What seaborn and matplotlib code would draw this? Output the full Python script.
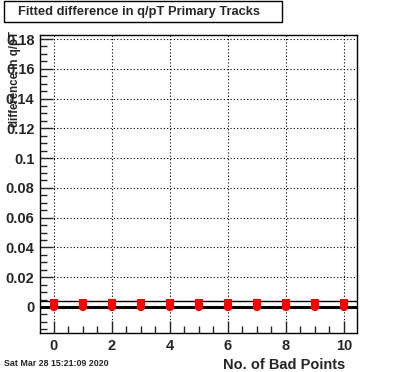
import numpy as np
import matplotlib
matplotlib.use("Agg")
import matplotlib.pyplot as plt
import seaborn as sns
from matplotlib.ticker import MultipleLocator
from matplotlib.patches import Rectangle

# data
bad_points = [0, 1, 2, 3, 4, 5, 6, 7, 8, 9, 10]
fit_mean = [0.0, 0.0, 0.0, 0.0, 0.0, 0.0, 0.0, 0.0, 0.0, 0.0, 0.0]
fit_upper = [0.003, 0.003, 0.003, 0.003, 0.003, 0.003, 0.003, 0.003, 0.003, 0.003, 0.003]
ref_lines = [0.0, 0.004]

sns.set_style("ticks")
plt.rcParams['font.family'] = ['Liberation Sans', 'DejaVu Sans']

fig = plt.figure(figsize=(3.96, 3.72), dpi=100)
ax = fig.add_axes([40 / 396, 1 - 333 / 372, 317 / 396, 298 / 372])

ax.axhline(ref_lines[0], color='black', lw=2.2, zorder=2)
ax.axhline(ref_lines[1], color='black', lw=1.0, zorder=2)

sns.scatterplot(x=bad_points, y=fit_upper, marker='s', s=28, color='red',
                edgecolor='none', ax=ax, zorder=3)
sns.scatterplot(x=bad_points, y=fit_mean, marker='o', s=36, color='red',
                edgecolor='none', ax=ax, zorder=3)
ax.vlines(bad_points, fit_mean, fit_upper, color='red', lw=4, zorder=3)

ax.set_xlim(-0.48, 10.45)
ax.set_ylim(-0.0175, 0.1827)
ax.xaxis.set_major_locator(MultipleLocator(2))
ax.xaxis.set_minor_locator(MultipleLocator(0.5))
ax.yaxis.set_major_locator(MultipleLocator(0.02))
ax.yaxis.set_minor_locator(MultipleLocator(0.005))
ax.set_yticks([0, 0.02, 0.04, 0.06, 0.08, 0.1, 0.12, 0.14, 0.16, 0.18])
ax.set_yticklabels(['0', '0.02', '0.04', '0.06', '0.08', '0.1', '0.12', '0.14', '0.16', '0.18'])
ax.tick_params(which='major', direction='in', length=9, width=1, labelsize=10.5, pad=4)
ax.tick_params(which='minor', direction='in', length=5, width=1)
for lab in ax.get_xticklabels() + ax.get_yticklabels():
    lab.set_fontweight('bold')
ax.grid(True, which='major', linestyle=(0, (1, 2)), color='black', lw=0.8)
for s in ax.spines.values():
    s.set_linewidth(1.0)
    s.set_color('black')

fig.text(345 / 396, 1 - 365 / 372, 'No. of Bad Points', ha='right', va='center',
         fontsize=10.5, fontweight='bold')
fig.text(15 / 396, 1 - 31 / 372, 'difference in q/pT', rotation=90, ha='center',
         va='top', fontsize=8.3, fontweight='bold')
fig.text(4 / 396, 1 - 364 / 372, 'Sat Mar 28 15:21:09 2020', ha='left', va='center',
         fontsize=6.4, fontweight='bold')

fig.patches.append(Rectangle((4 / 396, 1 - 22 / 372), 278 / 396, 21 / 372,
                             transform=fig.transFigure, facecolor='white',
                             edgecolor='black', lw=1))
fig.text(139 / 396, 1 - 12 / 372, 'Fitted difference in q/pT Primary Tracks',
         ha='center', va='center', fontsize=9.3, fontweight='bold')

fig.savefig('out.png', dpi=100)
